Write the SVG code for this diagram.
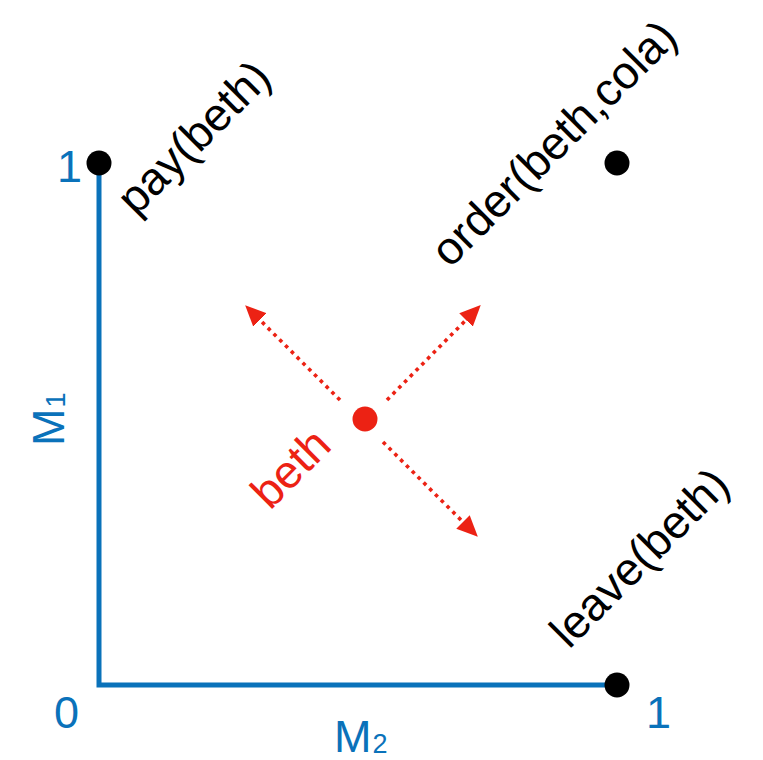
<svg xmlns="http://www.w3.org/2000/svg" width="763" height="760" viewBox="0 0 763 760">
  <style>
    text { font-family: "Liberation Sans", Arial, sans-serif; }
    .ax { fill: #0a72ba; font-size: 45px; }
    .sub { font-size: 27px; }
    .lbl { fill: #000; font-size: 46px; }
    .red { fill: #ec2214; font-size: 46px; }
    .axis { stroke: #0a72ba; stroke-width: 5; fill: none; stroke-linecap: butt; stroke-linejoin: miter; }
    .pt { fill: #000; }
    .arr { stroke: #ec2214; stroke-width: 3.6; stroke-dasharray: 3.6 4.6; fill: none; }
  </style>
  <defs>
    <marker id="ah" markerUnits="userSpaceOnUse" markerWidth="22" markerHeight="20" refX="0" refY="10" orient="auto">
      <path d="M0,0.5 L21,10 L0,19.5 Z" fill="#ec2214"/>
    </marker>
  </defs>

  <g id="axes">
    <path class="axis" d="M99,163 L99,685 L618,685"/>
    <text class="ax" x="57" y="182">1</text>
    <text class="ax" x="54" y="728">0</text>
    <text class="ax" x="646" y="728">1</text>
    <text class="ax" x="334" y="752">M<tspan class="sub" dx="1" dy="1">2</tspan></text>
    <text class="ax" transform="translate(64,446) rotate(-90)">M<tspan class="sub" dx="1" dy="1">1</tspan></text>
  </g>

  <g id="pay">
    <circle class="pt" cx="99" cy="163" r="12.5"/>
    <text class="lbl" transform="translate(136,217) rotate(-45)">pay(beth)</text>
  </g>

  <g id="order">
    <circle class="pt" cx="617" cy="163" r="12.5"/>
    <text class="lbl" transform="translate(450,269) rotate(-45)">order(beth,cola)</text>
  </g>

  <g id="leave">
    <circle class="pt" cx="617" cy="685" r="12.5"/>
    <text class="lbl" transform="translate(569,650) rotate(-45)">leave(beth)</text>
  </g>

  <g id="beth">
    <circle cx="365" cy="419" r="12.5" fill="#ec2214"/>
    <text class="red" transform="translate(270,511) rotate(-45)">beth</text>
  </g>

  <g id="connectors">
    <line class="arr" x1="340" y1="400" x2="260" y2="320" marker-end="url(#ah)"/>
    <line class="arr" x1="387" y1="400" x2="466" y2="320" marker-end="url(#ah)"/>
    <line class="arr" x1="383" y1="442" x2="463" y2="522" marker-end="url(#ah)"/>
  </g>
</svg>
